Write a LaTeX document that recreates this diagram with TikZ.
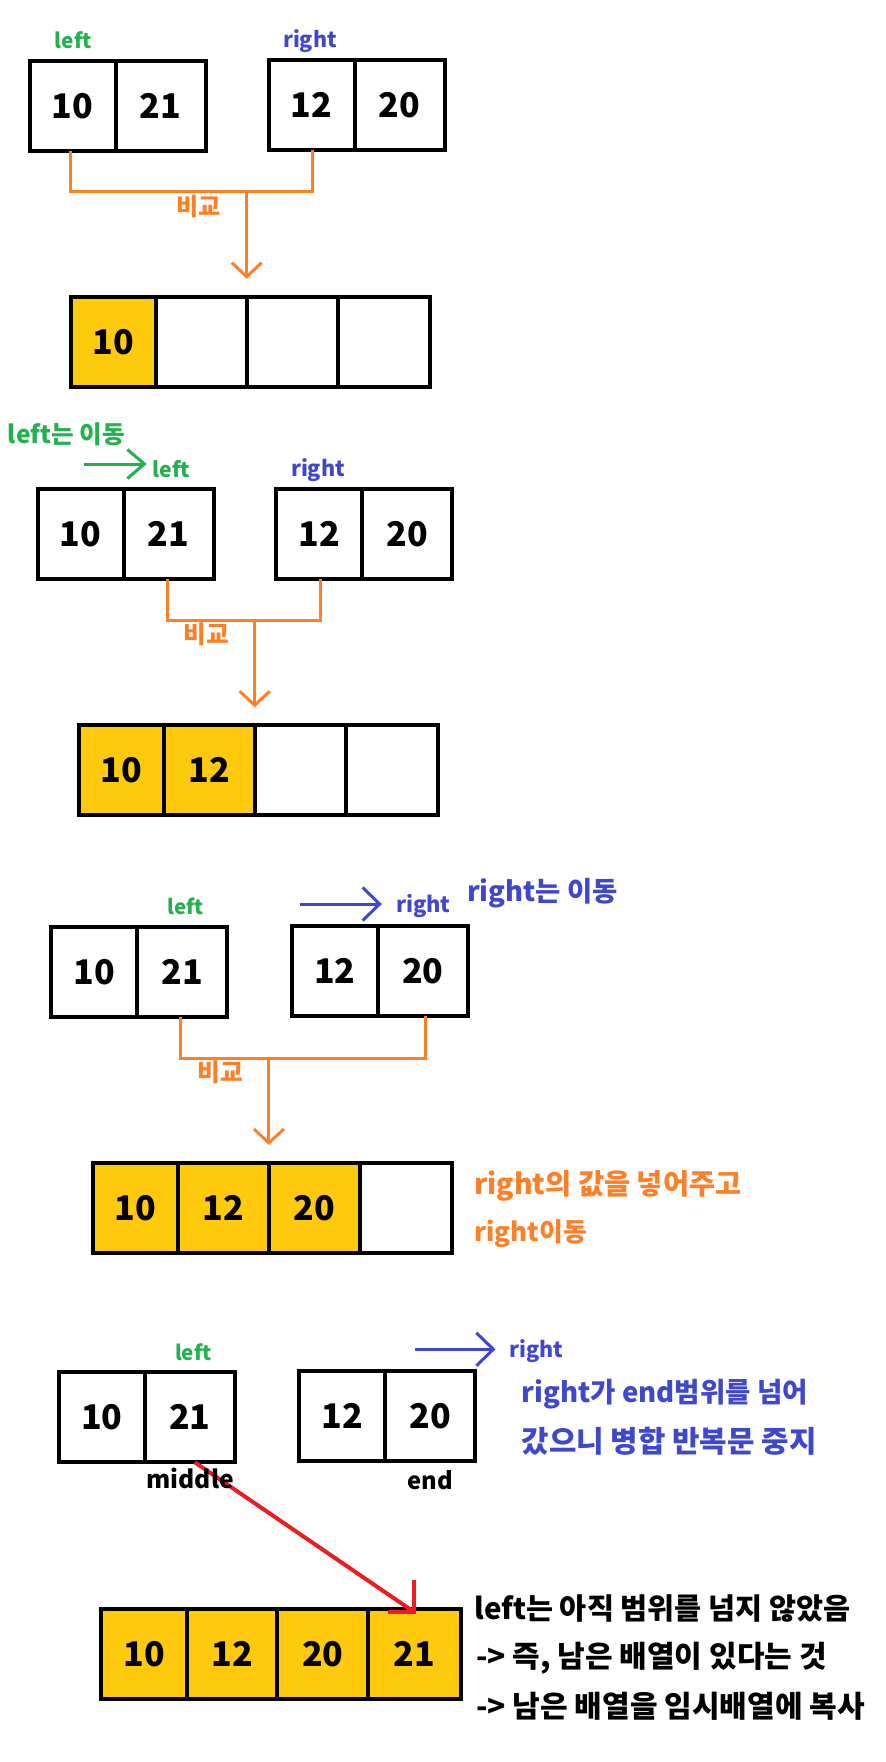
\documentclass[tikz,border=0pt]{standalone}
\usepackage{fontspec}
\usepackage{graphicx}
\setmainfont{Noto Sans CJK KR}
\usetikzlibrary{arrows.meta,calc}
\definecolor{pgreen}{HTML}{22B14C}
\definecolor{pblue}{HTML}{3F48CC}
\definecolor{porange}{HTML}{FF7F27}
\definecolor{pyellow}{HTML}{FFC90E}
\definecolor{pred}{HTML}{ED1C24}
\newcommand\fitw[2]{\resizebox{#1pt}{!}{#2}}
\begin{document}
\begin{tikzpicture}[x=1pt,y=-1pt,
  cellbox/.style={draw=black,line width=4pt,minimum height=90pt,inner sep=0pt,outer sep=0pt,
    anchor=north west,font=\fontsize{34}{40}\selectfont\bfseries},
  full/.style={fill=pyellow},
  txt/.style={inner sep=0pt,outer sep=0pt,font=\fontsize{24}{28}\selectfont\bfseries},
  gtxt/.style={txt,text=pgreen},
  btxt/.style={txt,text=pblue},
  otxt/.style={txt,text=porange},
  ktxt/.style={txt,text=black},
  oline/.style={draw=porange,line width=3pt},
  otip/.style={oline,-{Straight Barb[length=14pt,width=30pt]}},
  gline/.style={draw=pgreen,line width=3pt,-{Straight Barb[length=17pt,width=29pt]}},
  bline/.style={draw=pblue,line width=3pt,-{Straight Barb[length=17pt,width=33pt]}},
  redl/.style={draw=pred,line width=4pt}
]
\useasboundingbox[fill=white] (0,0) rectangle (886,1762);

% ---------------- stage 1 ----------------
\node[cellbox,minimum width=86pt] (L1a) at (29.7,60.7) {10};
\node[cellbox,minimum width=90pt] (L1b) at (L1a.north east) {21};
\node[cellbox,minimum width=86pt] (R1a) at (268.7,59.7) {12};
\node[cellbox,minimum width=90pt] (R1b) at (R1a.north east) {20};
\node[cellbox,full,minimum width=85.5pt] (T1a) at (70.7,296.7) {10};
\node[cellbox,minimum width=90.5pt] (T1b) at (T1a.north east) {};
\node[cellbox,minimum width=91pt] (T1c) at (T1b.north east) {};
\node[cellbox,minimum width=92.5pt] (T1d) at (T1c.north east) {};
\node[gtxt] (l1) at (73.3,40.5) {\fitw{36.7}{left}};
\node[btxt] (r1) at (310,41.3) {\fitw{53.7}{right}};
\path (T1c.north west |- L1a.south) ++(0,41) coordinate (J1);
\path (T1c.north west) ++(0,-18) coordinate (E1);
\draw[oline] ([xshift=-2.7pt]L1a.south) |- (J1) -| ([xshift=1pt]R1a.south);
\draw[otip] (J1) -- (E1);
\node[otxt] (c1) at ($(J1)+(-48.5,14.5)$) {\fitw{44.3}{비교}};

% ---------------- stage 2 ----------------
\node[gtxt] (mv2) at (66.5,434) {\fitw{117}{left는 이동}};
\coordinate (ga) at (84,464);
\coordinate (gb) at (146.7,464);
\draw[gline] (ga) -- (gb);
\node[cellbox,minimum width=86pt] (L2a) at (37.7,489) {10};
\node[cellbox,minimum width=90pt] (L2b) at (L2a.north east) {21};
\node[cellbox,minimum width=86pt] (R2a) at (276.3,488.7) {12};
\node[cellbox,minimum width=90pt] (R2b) at (R2a.north east) {20};
\node[cellbox,full,minimum width=85.5pt] (T2a) at (78.7,725.3) {10};
\node[cellbox,full,minimum width=90.5pt] (T2b) at (T2a.north east) {12};
\node[cellbox,minimum width=91pt] (T2c) at (T2b.north east) {};
\node[cellbox,minimum width=92.5pt] (T2d) at (T2c.north east) {};
\node[gtxt] (l2) at (171.3,469) {\fitw{37.3}{left}};
\node[btxt] (r2) at (318,470) {\fitw{54}{right}};
\path (T2c.north west |- L2a.south) ++(0,41) coordinate (J2);
\path (T2c.north west) ++(0,-18) coordinate (E2);
\draw[oline] ([xshift=-1.4pt]L2b.south) |- (J2) -| ([xshift=1.4pt]R2a.south);
\draw[otip] (J2) -- (E2);
\node[otxt] (c2) at ($(J2)+(-48.5,14.5)$) {\fitw{45.3}{비교}};

% ---------------- stage 3 ----------------
\node[cellbox,minimum width=86pt] (L3a) at (51.4,927) {10};
\node[cellbox,minimum width=90pt] (L3b) at (L3a.north east) {21};
\node[cellbox,minimum width=86pt] (R3a) at (291.8,925.7) {12};
\node[cellbox,minimum width=90pt] (R3b) at (R3a.north east) {20};
\node[cellbox,full,minimum width=85.5pt] (T3a) at (92.9,1163) {10};
\node[cellbox,full,minimum width=90.5pt] (T3b) at (T3a.north east) {12};
\node[cellbox,full,minimum width=91pt] (T3c) at (T3b.north east) {20};
\node[cellbox,minimum width=92.5pt] (T3d) at (T3c.north east) {};
\node[gtxt] (l3) at (185.5,906.7) {\fitw{35.8}{left}};
\coordinate (ba) at (300,904);
\coordinate (bb) at (381.8,904);
\draw[bline] (ba) -- (bb);
\node[btxt] (r3) at (423.3,906) {\fitw{54.6}{right}};
\node[btxt] (mv3) at (542.3,893.3) {\fitw{150.6}{right는 이동}};
\path (T3c.north west |- L3a.south) ++(0,41) coordinate (J3);
\path (T3c.north west) ++(0,-18) coordinate (E3);
\draw[oline] ([xshift=-1.7pt]L3b.south) |- (J3) -| ([xshift=2.2pt]R3b.south);
\draw[otip] (J3) -- (E3);
\node[otxt] (c3) at ($(J3)+(-48.5,14.5)$) {\fitw{45.5}{비교}};
\node[otxt,anchor=west] (n3a) at (474.4,1185.8) {\fitw{267}{right의 값을 넣어주고}};
\node[otxt,anchor=west] (n3b) at (474.4,1234) {\fitw{112.6}{right이동}};

% ---------------- stage 4 ----------------
\node[cellbox,minimum width=86pt] (L4a) at (58.8,1372.3) {10};
\node[cellbox,minimum width=90pt] (L4b) at (L4a.north east) {21};
\node[cellbox,minimum width=86pt] (R4a) at (299,1371.3) {12};
\node[cellbox,minimum width=90pt] (R4b) at (R4a.north east) {20};
\node[cellbox,full,minimum width=85.5pt] (T4a) at (101.4,1608.7) {10};
\node[cellbox,full,minimum width=90.5pt] (T4b) at (T4a.north east) {12};
\node[cellbox,full,minimum width=91pt] (T4c) at (T4b.north east) {20};
\node[cellbox,full,minimum width=92.5pt] (T4d) at (T4c.north east) {21};
\node[gtxt] (l4) at (193.2,1352) {\fitw{36.4}{left}};
\coordinate (bc) at (414.8,1349.3);
\coordinate (bd) at (495.5,1349.3);
\draw[bline] (bc) -- (bd);
\node[btxt] (r4) at (536.6,1351) {\fitw{53.9}{right}};
\node[btxt,anchor=west] (n4a) at (521.6,1393.7) {\fitw{286.4}{right가 end범위를 넘어}};
\node[btxt,anchor=west] (n4b) at (521.6,1441.7) {\fitw{295}{갔으니 병합 반복문 중지}};
\coordinate (rs) at ([xshift=5pt]L4b.south);
\coordinate (re) at ([xshift=-1pt,yshift=-3pt]T4d.north);
\draw[redl] (rs) -- (re);
\draw[redl] (re) ++(0,-32) -- (re) -- ++(-26,0);
\node[ktxt] (mid) at (190.3,1478) {\fitw{87.4}{middle}};
\node[ktxt] (endl) at (430,1479.7) {\fitw{45.4}{end}};
\node[ktxt,anchor=west] (n4c) at (474.4,1608.7) {\fitw{376}{left는 아직 범위를 넘지 않았음}};
\node[ktxt,anchor=west] (n4d) at (476,1657.8) {\fitw{350.7}{-> 즉, 남은 배열이 있다는 것}};
\node[ktxt,anchor=west] (n4e) at (476,1705.8) {\fitw{388.8}{-> 남은 배열을 임시배열에 복사}};
\end{tikzpicture}
\end{document}
